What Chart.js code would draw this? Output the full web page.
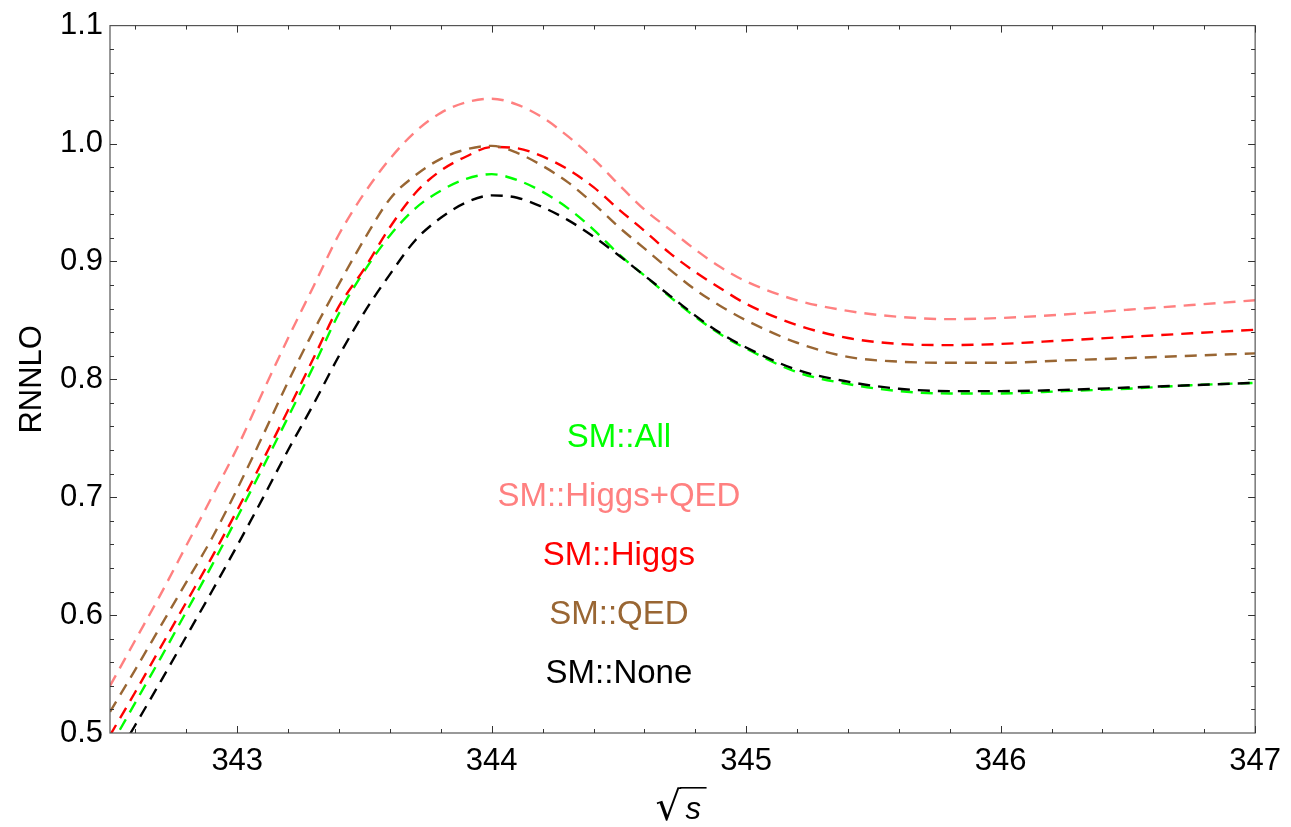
<!DOCTYPE html>
<html>
<head>
<meta charset="utf-8">
<script src="https://cdn.jsdelivr.net/npm/chart.js@4.4.0/dist/chart.umd.min.js"></script>
<style>
  html, body { margin: 0; padding: 0; background: #fff; }
  #wrap { width: 1291px; height: 827px; position: relative; }
</style>
</head>
<body>
<div id="wrap"><canvas id="c" width="1291" height="827"></canvas></div>
<script>
// ---- data ----
const sqrtS = [342.5, 342.6, 342.7, 342.8, 342.9, 343.0, 343.1, 343.2, 343.3, 343.4,
               343.5, 343.6, 343.7, 343.8, 343.9, 344.0, 344.1, 344.2, 344.3, 344.4,
               344.5, 344.6, 344.7, 344.8, 344.9, 345.0, 345.2, 345.4, 345.6, 345.8,
               346.0, 346.25, 346.5, 346.75, 347.0];

const smNone = [0.470, 0.507, 0.544, 0.582, 0.620, 0.659, 0.699, 0.740, 0.779, 0.820,
                0.857, 0.889, 0.918, 0.937, 0.950, 0.956, 0.954, 0.946, 0.935, 0.921,
                0.905, 0.888, 0.871, 0.854, 0.839, 0.827, 0.808, 0.798, 0.792, 0.790,
                0.790, 0.791, 0.793, 0.795, 0.797];

const smAll = [0.488, 0.526, 0.564, 0.603, 0.642, 0.683, 0.725, 0.768, 0.811, 0.856,
               0.892, 0.922, 0.945, 0.960, 0.970, 0.974, 0.969, 0.959, 0.945, 0.927,
               0.906, 0.888, 0.870, 0.853, 0.838, 0.826, 0.806, 0.796, 0.790, 0.788,
               0.788, 0.790, 0.792, 0.795, 0.797];

const smHiggs = [0.498, 0.535, 0.573, 0.611, 0.649, 0.689, 0.731, 0.774, 0.818, 0.862,
                 0.894, 0.929, 0.958, 0.977, 0.989, 0.997, 0.996, 0.989, 0.978, 0.963,
                 0.944, 0.926, 0.907, 0.891, 0.877, 0.864, 0.846, 0.835, 0.830, 0.829,
                 0.830, 0.833, 0.836, 0.839, 0.842];

const smQED = [0.518, 0.554, 0.591, 0.628, 0.665, 0.707, 0.752, 0.798, 0.841, 0.881,
               0.919, 0.953, 0.973, 0.987, 0.995, 0.998, 0.992, 0.981, 0.967, 0.949,
               0.929, 0.911, 0.893, 0.876, 0.862, 0.850, 0.831, 0.819, 0.815, 0.814,
               0.814, 0.816, 0.818, 0.820, 0.822];

const smHiggsQED = [0.540, 0.579, 0.618, 0.659, 0.700, 0.742, 0.789, 0.835, 0.879, 0.923,
                    0.958, 0.987, 1.010, 1.026, 1.035, 1.038, 1.033, 1.022, 1.006, 0.987,
                    0.965, 0.944, 0.927, 0.910, 0.895, 0.883, 0.867, 0.858, 0.853, 0.851,
                    0.852, 0.855, 0.859, 0.863, 0.867];

const xTicks = [343, 344, 345, 346, 347];
const yTicks = [0.5, 0.6, 0.7, 0.8, 0.9, 1.0, 1.1];

const legendLabels = ['SM::All', 'SM::Higgs+QED', 'SM::Higgs', 'SM::QED', 'SM::None'];
const legendX = 344.5;
const legendY = [0.75, 0.70, 0.65, 0.60, 0.55];

// ---- styles ----
const COLORS = {
  all: '#00ff00',
  higgsqed: '#ff8080',
  higgs: '#ff0000',
  qed: '#996633',
  none: '#000000'
};
const legendColors = [COLORS.all, COLORS.higgsqed, COLORS.higgs, COLORS.qed, COLORS.none];
const FONT = '"Liberation Sans", Arial, Helvetica, sans-serif';

function pts(ys) { return sqrtS.map((x, i) => ({ x: x, y: ys[i] })); }
function ds(label, ys, color) {
  return {
    label: label,
    data: pts(ys),
    borderColor: color,
    backgroundColor: color,
    borderWidth: 2.4,
    borderDash: [12, 8],
    pointRadius: 0,
    fill: false,
    cubicInterpolationMode: 'monotone'
  };
}

const framePlugin = {
  id: 'frame',
  afterDatasetsDraw(chart) {
    const { ctx, chartArea: a, scales } = chart;
    const xs = scales.x, ys = scales.y;
    ctx.save();
    // frame
    ctx.strokeStyle = '#555';
    ctx.lineWidth = 1.2;
    ctx.strokeRect(a.left, a.top, a.right - a.left, a.bottom - a.top);
    // ticks
    ctx.strokeStyle = '#333';
    ctx.lineWidth = 1;
    ctx.beginPath();
    for (let k = 0; k <= 22; k++) {
      const v = 342.6 + k * 0.2;
      if (v > 347.001) break;
      const major = Math.abs(v - Math.round(v)) < 1e-6;
      const L = major ? 7 : 4;
      const px = Math.round(xs.getPixelForValue(v)) + 0.5;
      ctx.moveTo(px, a.bottom); ctx.lineTo(px, a.bottom - L);
      ctx.moveTo(px, a.top); ctx.lineTo(px, a.top + L);
    }
    for (let k = 1; k < 30; k++) {
      const v = 0.5 + k * 0.02;
      const major = (k % 5) === 0;
      const L = major ? 7 : 4;
      const py = Math.round(ys.getPixelForValue(v)) + 0.5;
      ctx.moveTo(a.left, py); ctx.lineTo(a.left + L, py);
      ctx.moveTo(a.right, py); ctx.lineTo(a.right - L, py);
    }
    ctx.stroke();

    // in-plot labels
    ctx.font = '33px ' + FONT;
    ctx.textAlign = 'center';
    ctx.textBaseline = 'middle';
    legendLabels.forEach((t, i) => {
      ctx.fillStyle = legendColors[i];
      ctx.fillText(t, xs.getPixelForValue(legendX), ys.getPixelForValue(legendY[i]));
    });

    // axis titles
    ctx.fillStyle = '#000';
    ctx.save();
    ctx.translate(32, (a.top + a.bottom) / 2);
    ctx.rotate(-Math.PI / 2);
    ctx.font = '31px ' + FONT;
    ctx.textAlign = 'center';
    ctx.textBaseline = 'middle';
    ctx.fillText('RNNLO', 0, 0);
    ctx.restore();

    // sqrt(s)
    const cx = (a.left + a.right) / 2;
    ctx.textAlign = 'left';
    ctx.textBaseline = 'alphabetic';
    ctx.font = '30px "DejaVu Sans", ' + FONT;
    let m = ctx.measureText('\u221A');
    const h30 = m.actualBoundingBoxAscent + m.actualBoundingBoxDescent;
    const fs = 30 * 35 / h30;
    ctx.font = fs.toFixed(1) + 'px "DejaVu Sans", ' + FONT;
    m = ctx.measureText('\u221A');
    const rightEdge = cx - 1;
    const x0 = rightEdge - m.actualBoundingBoxRight;
    const base = 787 + m.actualBoundingBoxAscent;
    ctx.fillText('\u221A', x0, base);
    ctx.font = 'italic 31px ' + FONT;
    ctx.fillText('s', cx + 3, 819);
    ctx.strokeStyle = '#000';
    ctx.lineWidth = 1.6;
    ctx.beginPath();
    ctx.moveTo(rightEdge - 1.5, 787.8);
    ctx.lineTo(cx + 24, 787.8);
    ctx.stroke();
    ctx.restore();
  }
};

new Chart(document.getElementById('c'), {
  type: 'line',
  data: {
    datasets: [
      ds('SM::Higgs+QED', smHiggsQED, COLORS.higgsqed),
      ds('SM::QED', smQED, COLORS.qed),
      ds('SM::Higgs', smHiggs, COLORS.higgs),
      ds('SM::None', smNone, COLORS.none),
      ds('SM::All', smAll, COLORS.all)
    ]
  },
  options: {
    responsive: false,
    animation: false,
    events: [],
    layout: { padding: { top: 23, right: 33, left: 0, bottom: 0 } },
    plugins: { legend: { display: false }, tooltip: { enabled: false }, title: { display: false } },
    scales: {
      x: {
        type: 'linear',
        min: 342.5,
        max: 347,
        grid: { display: false, drawTicks: false },
        border: { display: false },
        afterBuildTicks(s) { s.ticks = xTicks.map(v => ({ value: v })); },
        afterFit(s) { s.height = 94; },
        ticks: {
          autoSkip: false, maxRotation: 0, minRotation: 0,
          padding: 10,
          color: '#000',
          font: { family: FONT, size: 31 },
          callback: v => String(v)
        }
      },
      y: {
        type: 'linear',
        min: 0.5,
        max: 1.1,
        grid: { display: false, drawTicks: false },
        border: { display: false },
        afterBuildTicks(s) { s.ticks = yTicks.map(v => ({ value: v })); },
        afterFit(s) { s.width = 110; },
        ticks: {
          autoSkip: false,
          padding: 7,
          color: '#000',
          font: { family: FONT, size: 31 },
          callback: v => Number(v).toFixed(1)
        }
      }
    }
  },
  plugins: [framePlugin]
});
</script>
</body>
</html>
